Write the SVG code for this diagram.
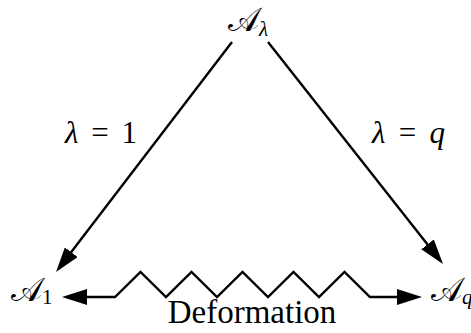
<svg xmlns="http://www.w3.org/2000/svg" width="471" height="333" viewBox="0 0 471 333">
<style>
text{font-family:'Liberation Serif', serif;fill:#000}
.cal{font-size:33px}
.it{font-style:italic}
.edge{fill:none;stroke:#000;stroke-width:2.4;stroke-linejoin:miter}
</style>
<defs>
<marker id="ah" viewBox="0 0 25 16" refX="15" refY="8" markerWidth="25" markerHeight="16" markerUnits="userSpaceOnUse" orient="auto-start-reverse">
<path d="M0,0 L25,8 L0,16 z" fill="#000"/>
</marker>
</defs>
<g id="connectors">
<line class="edge" x1="232" y1="42" x2="62.1" y2="264.1" marker-end="url(#ah)"/>
<line class="edge" x1="268" y1="42" x2="436.8" y2="256.2" marker-end="url(#ah)"/>
<path class="edge" d="M72,297 L115,297 L140.5,272 L166,297 L191.5,272 L217,297 L242.5,272 L268,297 L293.5,272 L319,297 L344.5,272 L370,297 L412,297" marker-start="url(#ah)" marker-end="url(#ah)"/>
</g>
<g id="node-Alambda">
<text x="228" y="31"><tspan class="cal">𝒜</tspan><tspan class="it" font-size="21" dy="5">λ</tspan></text>
</g>
<g id="node-A1">
<text x="11" y="301"><tspan class="cal">𝒜</tspan><tspan font-size="21" dy="3">1</tspan></text>
</g>
<g id="node-Aq">
<text x="431" y="301"><tspan class="cal">𝒜</tspan><tspan class="it" font-size="21" dy="3">q</tspan></text>
</g>
<g id="label-l1">
<text x="101" y="143" font-size="31" text-anchor="middle" textLength="72" lengthAdjust="spacing"><tspan class="it">λ</tspan> = 1</text>
</g>
<g id="label-lq">
<text x="408.5" y="143" font-size="31" text-anchor="middle" textLength="73" lengthAdjust="spacing"><tspan class="it">λ</tspan> = <tspan class="it">q</tspan></text>
</g>
<g id="label-deformation">
<text x="252" y="323" font-size="33" text-anchor="middle">Deformation</text>
</g>
</svg>
